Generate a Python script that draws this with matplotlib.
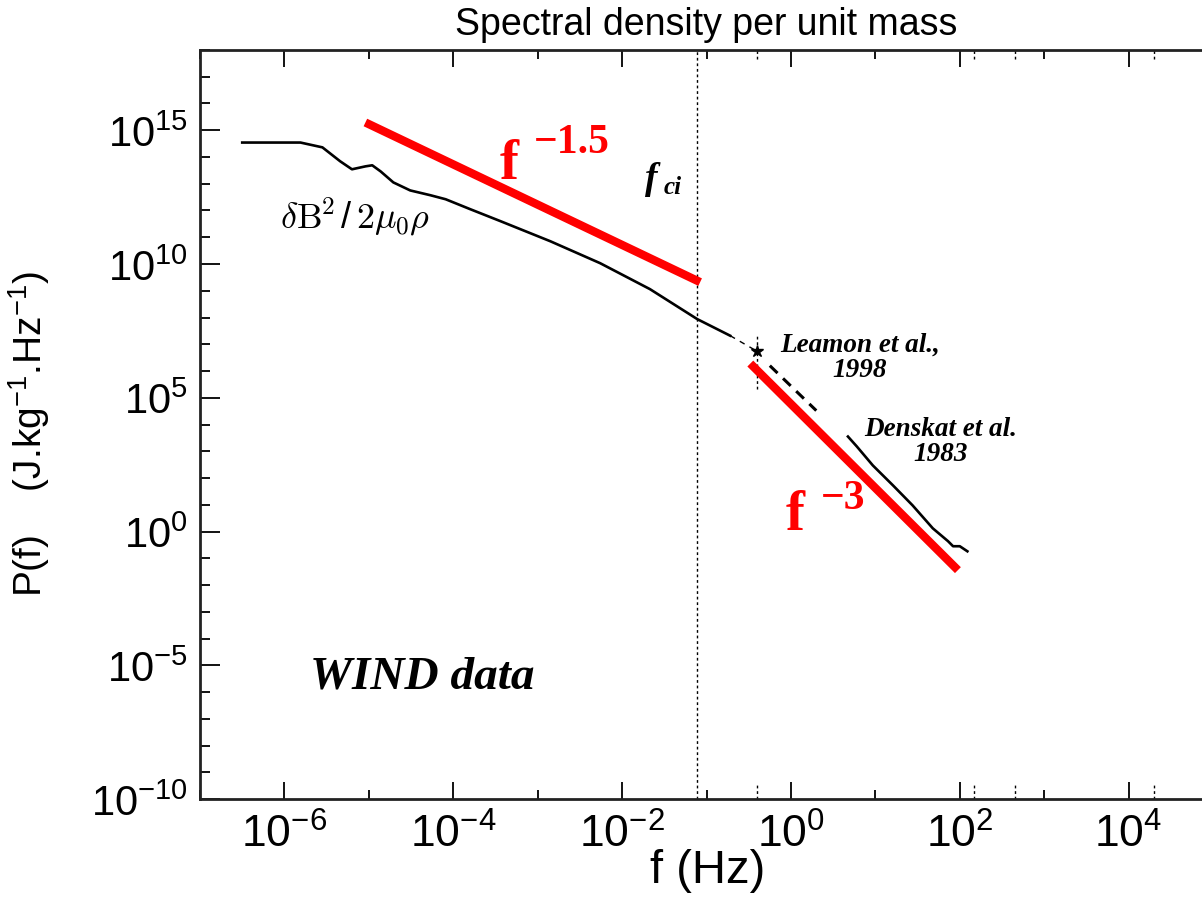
import numpy as np
import matplotlib.pyplot as plt
from matplotlib.ticker import FixedLocator, NullFormatter, LogFormatterSciNotation

plt.rcParams['font.family'] = ['Liberation Sans', 'DejaVu Sans']
plt.rcParams['mathtext.default'] = 'regular'

# WIND magnetic spectrum (log10 values)
wind_logf = [-6.50, -5.81, -5.55, -5.34, -5.20, -5.04, -4.96, -4.86, -4.71, -4.51,
             -4.27, -4.09, -3.80, -3.44, -2.85, -2.26, -1.67, -1.11, -0.72]
wind_logp = [14.54, 14.54, 14.36, 13.84, 13.54, 13.65, 13.69, 13.46, 13.05, 12.75,
             12.57, 12.42, 12.05, 11.60, 10.85, 10.03, 9.06, 7.94, 7.32]
# thin dashed continuation toward the Leamon point
tail_logf = [-0.72, -0.43]
tail_logp = [7.32, 6.79]

# Leamon et al. 1998
leamon_logf = -0.40
leamon_logp = 6.76
leamon_err_logp = [5.34, 7.39]
leamon_fit_logf = [-0.25, 0.30]
leamon_fit_logp = [6.20, 4.52]

# Denskat et al. 1983
denskat_logf = [0.675, 0.78, 0.97, 1.21, 1.44, 1.68, 1.86, 1.92, 2.00, 2.09]
denskat_logp = [3.55, 3.18, 2.47, 1.72, 0.98, 0.12, -0.36, -0.55, -0.55, -0.74]

# power-law guide lines
guide15_f = [9.1e-6, 8.4e-2]
guide15_p = [1.95e15, 2.1e9]
guide3_f = [0.33, 95.0]
guide3_p = [1.9e6, 3.6e-2]

f_ci = 0.077
mark_f = [0.40, 147.0, 446.0, 2.0e4]

xmajor = [1e-6, 1e-4, 1e-2, 1e0, 1e2, 1e4]
xminor = [1e-7, 1e-5, 1e-3, 1e-1, 1e1, 1e3, 1e5]
ymajor = [1e-10, 1e-5, 1e0, 1e5, 1e10, 1e15]
yminor = [10.0 ** k for k in range(-10, 19)]

serif = ['Liberation Serif', 'DejaVu Serif']

fig = plt.figure(figsize=(12.02, 9.04), dpi=100)
ax = fig.add_axes([0.1664, 0.115, 0.8428, 0.8286])
ax.set_xscale('log')
ax.set_yscale('log')
ax.set_xlim(1e-7, 1e5)
ax.set_ylim(1e-10, 1e18)

# data
ax.plot(10 ** np.array(wind_logf), 10 ** np.array(wind_logp), color='black', lw=1.9)
ax.plot(10 ** np.array(tail_logf), 10 ** np.array(tail_logp), color='black', lw=1.0,
        ls=(0, (4, 4)))
ax.plot([10 ** leamon_logf] * 2, 10 ** np.array(leamon_err_logp), color='black', lw=1.0,
        ls=(0, (2, 2)))
ax.plot([10 ** leamon_logf], [10 ** leamon_logp], marker='*', color='black', ms=9)
ax.plot(10 ** np.array(leamon_fit_logf), 10 ** np.array(leamon_fit_logp), color='black',
        lw=2.2, ls=(0, (3.5, 2.5)))
ax.plot(10 ** np.array(denskat_logf), 10 ** np.array(denskat_logp), color='black', lw=1.9)

ax.plot(guide15_f, guide15_p, color='#ff0000', lw=6, solid_capstyle='butt', zorder=4)
ax.plot(guide3_f, guide3_p, color='#ff0000', lw=6, solid_capstyle='butt', zorder=4)

ax.axvline(f_ci, color='black', lw=1.0, ls=(0, (2, 2)))
for f in mark_f:
    ax.plot([f, f], [0, 0.022], transform=ax.get_xaxis_transform(), color='black',
            lw=1.0, ls=(0, (2, 2)), clip_on=False)
    ax.plot([f, f], [0.988, 1.0], transform=ax.get_xaxis_transform(), color='black',
            lw=1.0, ls=(0, (2, 2)), clip_on=False)

# ticks
ax.xaxis.set_major_locator(FixedLocator(xmajor))
ax.xaxis.set_minor_locator(FixedLocator(xminor))
ax.xaxis.set_major_formatter(LogFormatterSciNotation())
ax.xaxis.set_minor_formatter(NullFormatter())
ax.yaxis.set_major_locator(FixedLocator(ymajor))
ax.yaxis.set_minor_locator(FixedLocator(yminor))
ax.yaxis.set_major_formatter(LogFormatterSciNotation())
ax.yaxis.set_minor_formatter(NullFormatter())
ax.tick_params(which='both', direction='in', top=True, right=False, width=1.3, colors='black')
ax.tick_params(axis='x', which='major', length=12.5, pad=10)
ax.tick_params(axis='x', which='minor', length=6.5)
ax.tick_params(axis='y', which='major', length=14.5, pad=9)
ax.tick_params(axis='y', which='minor', length=7.2)
plt.setp(ax.get_xticklabels(), fontsize=32)
plt.setp(ax.get_yticklabels(), fontsize=30)

for s in ax.spines.values():
    s.set_linewidth(2)
    s.set_color('#222222')

# labels
ax.set_title('Spectral density per unit mass', fontsize=27, y=1.022, pad=0)
ax.set_xlabel('f (Hz)', fontsize=34)
ax.xaxis.set_label_coords(0.5015, -0.065)
ax.set_ylabel(r'P(f)    (J.kg$^{-1}$.Hz$^{-1}$)', fontsize=28)
ax.yaxis.set_label_coords(-0.146, 0.489)

# annotations
red = dict(color='#ff0000', fontweight='bold', family=serif)
ax.text(3.5e-4, 1.6e13, 'f', fontsize=41, **red)
ax.text(9.1e-4, 1.5e14, '\u22121.5', fontsize=30, **red)
ax.text(0.87, 1.2, 'f', fontsize=41, **red)
ax.text(2.26, 7.4, '\u22123', fontsize=30, **red)

bi = dict(color='black', fontweight='bold', fontstyle='italic', family=serif)
ax.text(1.87e-2, 6.8e12, 'f', fontsize=27, **bi)
ax.text(3.1e-2, 4.4e12, 'ci', fontsize=18, **bi)
ax.text(6.5, 2.9e7, 'Leamon et al.,\n1998', fontsize=19.5, ha='center', va='top',
        multialignment='center', linespacing=1.0, **bi)
ax.text(59.6, 2.0e4, 'Denskat et al.\n1983', fontsize=19.5, ha='center', va='top',
        multialignment='center', linespacing=1.0, **bi)
ax.text(2.0e-6, 1.5e-6, 'WIND data', fontsize=34, **bi)

ax.text(8.9e-7, 2.4e11,
        r'$\mathit{\delta}\mathrm{B}^{\mathrm{2}}\,/\,\mathrm{2}\mathit{\mu}_{\mathrm{0}}\mathit{\rho}$',
        fontsize=26, color='black', math_fontfamily='cm')

fig.savefig('out.png', dpi=100)
